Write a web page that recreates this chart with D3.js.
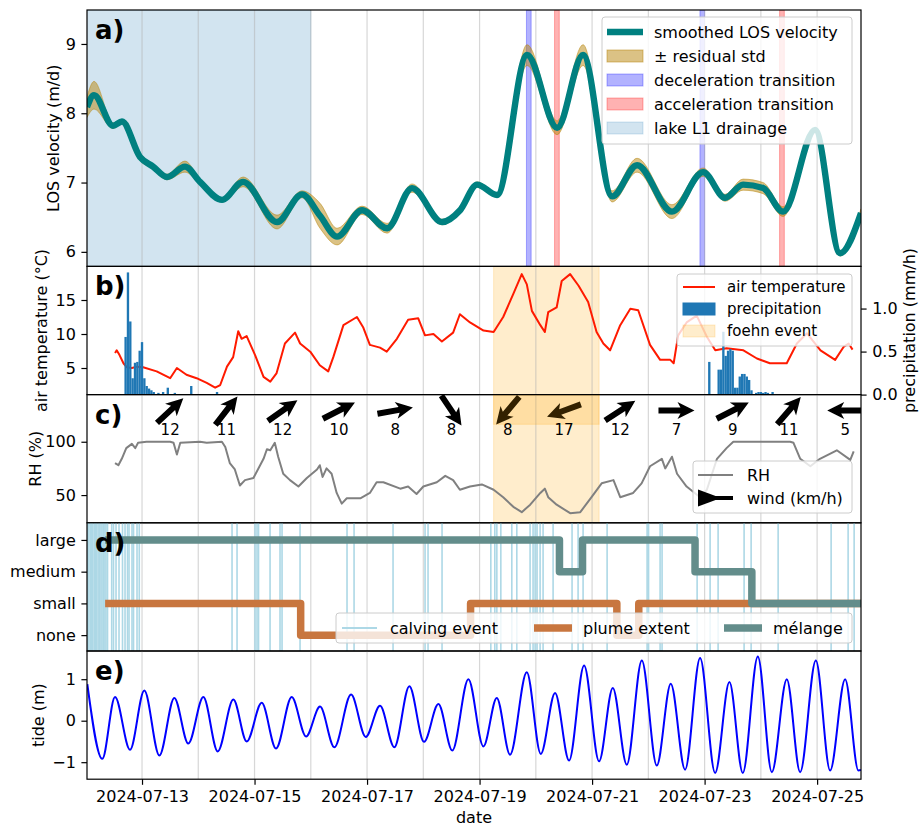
<!DOCTYPE html>
<html>
<head>
<meta charset="utf-8">
<script src="https://cdn.jsdelivr.net/npm/d3@7"></script>
<style>
body { margin: 0; background: #fff; }
text { font-family: "DejaVu Sans", sans-serif; }
</style>
</head>
<body>
<script>
// time is stored as days after 2024-07-12 00:00 UTC
const t0 = Date.UTC(2024, 6, 12);
const toDate = d => new Date(t0 + d * 864e5);
const xLimits = [0.022, 13.78];

// a) LOS velocity
const velDays   = [0.022, 0.147, 0.484, 0.644, 0.964, 1.196, 1.444, 1.764, 2.031, 2.422, 2.796, 3.40, 3.844, 4.164, 4.467, 4.911, 5.356, 5.80, 6.333, 6.653, 6.956, 7.311, 7.844, 8.378, 8.84, 9.356, 9.80, 10.42, 10.973, 11.364, 11.684, 12.04, 12.396, 12.964, 13.409, 13.78];
const velValues = [8.09, 8.26, 7.82, 7.88, 7.37, 7.23, 7.08, 7.23, 7.01, 6.75, 7.01, 6.43, 6.83, 6.52, 6.22, 6.60, 6.34, 6.92, 6.43, 6.60, 6.97, 6.82, 8.84, 7.79, 8.84, 6.80, 7.25, 6.58, 7.15, 6.78, 6.97, 6.92, 6.58, 7.76, 5.98, 6.56];
const velStd    = [0.15, 0.20, 0.04, 0.03, 0.05, 0.03, 0.04, 0.08, 0.03, 0.03, 0.07, 0.10, 0.05, 0.18, 0.12, 0.06, 0.07, 0.06, 0.04, 0.03, 0.04, 0.03, 0.15, 0.10, 0.15, 0.08, 0.10, 0.10, 0.06, 0.05, 0.08, 0.08, 0.07, 0.03, 0.04, 0.06];
const lakeDrainage = [0, 4.0];
const decelWindows = [[7.833, 7.917], [10.917, 11.0]];
const accelWindows = [[8.333, 8.417], [12.333, 12.417]];

// b) air temperature and precipitation
const tempDays   = [0.52, 0.55, 0.60, 0.67, 0.73, 0.82, 0.91, 1.02, 1.26, 1.50, 1.62, 1.79, 1.97, 2.15, 2.30, 2.39, 2.51, 2.62, 2.71, 2.77, 2.86, 3.01, 3.16, 3.28, 3.39, 3.54, 3.72, 3.81, 3.99, 4.16, 4.31, 4.40, 4.58, 4.82, 4.93, 5.05, 5.23, 5.35, 5.53, 5.73, 5.91, 6.03, 6.18, 6.33, 6.53, 6.65, 6.83, 7.07, 7.25, 7.42, 7.60, 7.75, 7.84, 7.93, 8.08, 8.16, 8.22, 8.37, 8.46, 8.61, 8.76, 8.93, 9.08, 9.20, 9.32, 9.50, 9.68, 9.82, 10.03, 10.21, 10.39, 10.45, 10.53, 10.68, 10.86, 11.04, 11.19, 11.39, 11.69, 11.93, 12.16, 12.46, 12.64, 12.82, 13.06, 13.32, 13.47, 13.56, 13.63];
const tempValues = [7.2, 7.6, 6.9, 5.7, 5.1, 5.0, 5.2, 5.1, 4.5, 3.5, 5.0, 4.0, 3.5, 2.8, 2.1, 2.5, 5.2, 6.6, 10.4, 9.3, 9.7, 6.9, 3.7, 3.0, 4.2, 8.6, 10.2, 8.6, 7.4, 5.4, 4.5, 6.6, 11.3, 12.5, 11.0, 8.4, 8.0, 7.4, 9.3, 12.1, 12.3, 9.8, 10.0, 8.9, 10.2, 12.9, 11.7, 10.5, 10.3, 12.5, 15.9, 18.8, 17.3, 13.4, 11.3, 10.3, 13.2, 13.9, 17.8, 18.8, 17.1, 14.7, 10.3, 8.6, 7.6, 11.3, 13.7, 13.5, 8.4, 6.2, 6.2, 5.7, 9.8, 11.7, 12.7, 9.6, 7.6, 7.9, 7.6, 6.4, 5.7, 5.7, 8.6, 10.1, 7.6, 6.2, 8.1, 8.6, 7.7];
// hours after 2024-07-12 00:00
const precipHours  = [17, 18, 19, 20, 21, 22, 23, 24, 25, 26, 27, 28, 29, 31, 33, 35, 38, 45, 56, 266, 270, 271, 272, 273, 274, 275, 276, 277, 278, 279, 280, 281, 282, 283, 284, 286, 287, 288, 289, 290, 291, 293];
const precipValues = [0.67, 1.42, 0.85, 0.19, 0.37, 0.38, 0.51, 0.61, 0.19, 0.10, 0.07, 0.05, 0.03, 0.02, 0.03, 0.08, 0.02, 0.10, 0.03, 0.38, 0.29, 0.29, 0.73, 0.45, 0.51, 0.53, 0.51, 0.08, 0.08, 0.21, 0.24, 0.24, 0.21, 0.17, 0.05, 0.02, 0.03, 0.03, 0.02, 0.03, 0.02, 0.03];
const foehnEvent = [7.25, 9.125];

// c) relative humidity and daily wind
const rhDays   = [0.52, 0.58, 0.64, 0.72, 0.82, 0.88, 0.93, 1.08, 1.50, 1.56, 1.62, 1.68, 2.03, 2.15, 2.42, 2.48, 2.56, 2.65, 2.74, 2.83, 2.98, 3.16, 3.22, 3.28, 3.36, 3.42, 3.51, 3.63, 3.78, 3.93, 4.11, 4.16, 4.21, 4.28, 4.37, 4.46, 4.55, 4.64, 4.88, 5.05, 5.17, 5.29, 5.59, 5.73, 5.88, 6.00, 6.24, 6.39, 6.53, 6.65, 6.83, 7.04, 7.25, 7.42, 7.60, 7.75, 7.90, 8.08, 8.16, 8.22, 8.37, 8.61, 8.79, 8.99, 9.17, 9.38, 9.50, 9.73, 9.88, 10.03, 10.24, 10.30, 10.42, 10.51, 10.68, 10.92, 11.04, 11.22, 11.39, 11.51, 12.52, 12.58, 12.70, 12.88, 13.05, 13.35, 13.59, 13.65];
const rhValues = [80, 78, 84, 94, 98, 94, 99, 100, 100, 99, 88, 99, 100, 99, 100, 95, 80, 74, 59, 64, 66, 84, 93, 92, 99, 86, 70, 64, 58, 66, 74, 78, 67, 75, 70, 52, 42, 47, 47, 52, 62, 62, 56, 58, 51, 58, 62, 68, 64, 55, 58, 60, 55, 48, 39, 34, 41, 52, 56, 48, 41, 33, 34, 48, 61, 64, 48, 52, 61, 77, 84, 75, 86, 70, 58, 48, 55, 84, 94, 100, 100, 99, 84, 77, 84, 92, 83, 91];
const windDays  = [1.5, 2.5, 3.5, 4.5, 5.5, 6.5, 7.5, 8.5, 9.5, 10.5, 11.5, 12.5, 13.5];
const windSpeed = [12, 11, 12, 10, 8, 8, 8, 17, 12, 7, 9, 11, 5];
const windFrom  = [227, 218, 235, 243, 260, 326, 40, 70, 237, 270, 243, 221, 90];

// d) calving, plume, melange
const extentLevels = ["none", "small", "medium", "large"];
const calvingDays = [0.03, 0.055, 0.08, 0.10, 0.125, 0.15, 0.17, 0.195, 0.22, 0.245, 0.27, 0.29, 0.315, 0.34, 0.36, 0.387, 0.461, 0.493, 0.538, 0.591, 0.653, 0.698, 0.742, 0.769, 0.822, 0.849, 0.911, 0.951, 2.6, 2.689, 3.009, 3.044, 3.071, 3.276, 3.453, 3.489, 3.809, 4.644, 4.769, 5.462, 6.031, 6.084, 6.333, 7.2, 7.271, 7.307, 7.378, 7.573, 7.662, 7.898, 7.951, 7.987, 8.022, 8.076, 8.129, 8.307, 8.644, 8.751, 8.84, 9.267, 9.978, 10.004, 10.209, 10.244, 10.867, 11.098, 11.24, 11.702, 11.827, 12.307, 13.249, 13.551, 13.658];
const plumeDays     = [0.344, 3.82, 6.84, 9.44, 9.83, 13.78];
const plumeLevels   = ["small", "none", "small", "none", "small", "small"];
const melangeDays   = [0.344, 8.42, 8.83, 10.83, 11.84, 13.78];
const melangeLevels = ["large", "medium", "large", "medium", "small", "small"];

// e) tide
const tideDays   = [0.028, 0.294, 0.52, 0.787, 1.041, 1.308, 1.574, 1.823, 2.09, 2.346, 2.623, 2.861, 3.128, 3.382, 3.661, 3.916, 4.164, 4.419, 4.716, 4.977, 5.231, 5.485, 5.752, 6.013, 6.268, 6.516, 6.801, 7.068, 7.306, 7.542, 7.839, 8.088, 8.342, 8.591, 8.858, 9.124, 9.368, 9.617, 9.884, 10.15, 10.399, 10.653, 10.92, 11.187, 11.441, 11.679, 11.946, 12.195, 12.461, 12.698, 12.977, 13.231, 13.498, 13.734, 13.78];
const tideValues = [0.88, -0.92, 0.57, -0.70, 0.73, -0.84, 0.55, -0.55, 0.57, -0.74, 0.51, -0.50, 0.43, -0.67, 0.57, -0.38, 0.34, -0.64, 0.63, -0.39, 0.36, -0.64, 0.83, -0.51, 0.40, -0.72, 1.00, -0.62, 0.55, -0.82, 1.17, -0.80, 0.67, -0.96, 1.33, -0.98, 0.79, -1.06, 1.45, -1.08, 0.89, -1.18, 1.51, -1.26, 0.93, -1.26, 1.55, -1.24, 1.00, -1.24, 1.45, -1.20, 1.00, -1.20, -1.19];

// ---- layout ----
const W = 919, H = 826;
const L = 87, R = 861;
const tops = [10, 266.4, 394.6, 522.8, 651];
const bots = [266.4, 394.6, 522.8, 651, 779.2];
const FS = 16;

const svg = d3.select("body").append("svg").attr("width", W).attr("height", H);

const x = d3.scaleUtc().domain(xLimits.map(toDate)).range([L, R]);
const gridDays = d3.utcDay.range(toDate(xLimits[0]), toDate(xLimits[1]));
const xd = d => x(toDate(d));

function makePanel(i) {
  const g = svg.append("g");
  svg.append("clipPath").attr("id", "clip" + i).append("rect")
    .attr("x", L).attr("y", tops[i]).attr("width", R - L).attr("height", bots[i] - tops[i]);
  const inner = g.append("g").attr("clip-path", `url(#clip${i})`);
  return { g, inner, top: tops[i], bot: bots[i] };
}

function band(sel, p, d0, d1, color, op, y0, y1) {
  const a = y0 === undefined ? p.top : y0;
  const b = y1 === undefined ? p.bot : y1;
  sel.append("rect")
    .attr("x", xd(d0)).attr("width", xd(d1) - xd(d0))
    .attr("y", a).attr("height", b - a)
    .attr("fill", color).attr("fill-opacity", op)
    .attr("stroke", color).attr("stroke-opacity", op).attr("stroke-width", 1);
}

function grid(p) {
  p.inner.append("g").selectAll("line").data(gridDays).join("line")
    .attr("x1", d => x(d)).attr("x2", d => x(d))
    .attr("y1", p.top).attr("y2", p.bot)
    .attr("stroke", "#b0b0b0").attr("stroke-opacity", 0.5).attr("stroke-width", 1.2);
}

function styleAxis(g) {
  g.attr("font-size", FS).attr("font-family", "DejaVu Sans, sans-serif");
  g.select(".domain").remove();
  g.selectAll(".tick line").attr("stroke", "#000").attr("stroke-width", 1.2);
  g.selectAll(".tick text").attr("fill", "#000");
}

function leftAxis(p, y, values, fmt) {
  const ax = d3.axisLeft(y).tickValues(values).tickSize(5.6).tickPadding(5.6)
    .tickFormat(fmt || d3.format("d"));
  p.g.append("g").attr("transform", `translate(${L},0)`).call(ax).call(styleAxis);
}

function yLabel(p, xpos, label) {
  p.g.append("text")
    .attr("transform", `translate(${xpos},${(p.top + p.bot) / 2}) rotate(-90)`)
    .attr("text-anchor", "middle").attr("font-size", FS).text(label);
}

function frame(p) {
  p.g.append("rect").attr("x", L).attr("y", p.top).attr("width", R - L).attr("height", p.bot - p.top)
    .attr("fill", "none").attr("stroke", "#000").attr("stroke-width", 1.2);
}

function panelLabel(p, s) {
  p.g.append("text").attr("x", L + 8).attr("y", p.top + 29)
    .attr("font-size", 26).attr("font-weight", "bold").text(s);
}

function legendBox(g, x0, y0, w, h) {
  g.append("rect").attr("x", x0).attr("y", y0).attr("width", w).attr("height", h)
    .attr("rx", 3).attr("fill", "#fff").attr("fill-opacity", 0.8)
    .attr("stroke", "#ccc").attr("stroke-width", 1);
}

// ================= a) =================
const pa = makePanel(0);
const yA = d3.scaleLinear().domain([5.79, 9.49]).range([pa.bot, pa.top]);
band(pa.inner, pa, lakeDrainage[0], lakeDrainage[1], "#1f77b4", 0.2);
decelWindows.forEach(w => band(pa.inner, pa, w[0], w[1], "blue", 0.3));
accelWindows.forEach(w => band(pa.inner, pa, w[0], w[1], "red", 0.3));
grid(pa);
const velIdx = d3.range(velDays.length);
pa.inner.append("path")
  .attr("d", d3.area()
    .x(i => xd(velDays[i]))
    .y0(i => yA(velValues[i] - velStd[i]))
    .y1(i => yA(velValues[i] + velStd[i]))
    .curve(d3.curveMonotoneX)(velIdx))
  .attr("fill", "#b8860b").attr("fill-opacity", 0.5)
  .attr("stroke", "#b8860b").attr("stroke-opacity", 0.5).attr("stroke-width", 1);
pa.inner.append("path")
  .attr("d", d3.line().x(i => xd(velDays[i])).y(i => yA(velValues[i])).curve(d3.curveMonotoneX)(velIdx))
  .attr("fill", "none").attr("stroke", "#008080").attr("stroke-width", 6.4);
leftAxis(pa, yA, [6, 7, 8, 9]);
yLabel(pa, 59, "LOS velocity (m/d)");
{
  const lg = pa.g.append("g");
  legendBox(lg, 602, 17, 250, 127);
  const rows = [
    { t: "smoothed LOS velocity", line: "#008080", w: 6.4 },
    { t: "± residual std", patch: "#b8860b", op: 0.5 },
    { t: "deceleration transition", patch: "blue", op: 0.3 },
    { t: "acceleration transition", patch: "red", op: 0.3 },
    { t: "lake L1 drainage", patch: "#1f77b4", op: 0.2 }
  ];
  rows.forEach((r, i) => {
    const yy = 32 + i * 24;
    if (r.line) {
      lg.append("line").attr("x1", 607).attr("x2", 643).attr("y1", yy).attr("y2", yy)
        .attr("stroke", r.line).attr("stroke-width", r.w);
    } else {
      lg.append("rect").attr("x", 607).attr("y", yy - 6).attr("width", 36).attr("height", 12)
        .attr("fill", r.patch).attr("fill-opacity", r.op)
        .attr("stroke", r.patch).attr("stroke-opacity", r.op);
    }
    lg.append("text").attr("x", 654).attr("y", yy).attr("dy", "0.36em").attr("font-size", FS).text(r.t);
  });
}
panelLabel(pa, "a)");
frame(pa);

// ================= b) =================
const pb = makePanel(1);
const yT = d3.scaleLinear().domain([1.09, 19.94]).range([pb.bot, pb.top]);
const yP = d3.scaleLinear().domain([0, 1.49]).range([pb.bot, pb.top]);
band(pb.inner, pb, foehnEvent[0], foehnEvent[1], "orange", 0.2);
grid(pb);
const tIdx = d3.range(tempDays.length);
pb.inner.append("path")
  .attr("d", d3.line().x(i => xd(tempDays[i])).y(i => yT(tempValues[i]))(tIdx))
  .attr("fill", "none").attr("stroke", "#ff1a00").attr("stroke-width", 2).attr("stroke-linejoin", "round");
const hourW = xd(1 / 24) - xd(0);
pb.inner.append("g").selectAll("rect").data(d3.range(precipHours.length)).join("rect")
  .attr("x", i => xd(precipHours[i] / 24) - hourW / 2)
  .attr("width", hourW)
  .attr("y", i => yP(precipValues[i]))
  .attr("height", i => yP(0) - yP(precipValues[i]))
  .attr("fill", "#1f77b4");
leftAxis(pb, yT, [5, 10, 15]);
{
  const ax = d3.axisRight(yP).tickValues([0, 0.5, 1.0]).tickFormat(d3.format(".1f")).tickSize(5.6).tickPadding(5.6);
  pb.g.append("g").attr("transform", `translate(${R},0)`).call(ax).call(styleAxis);
}
yLabel(pb, 47, "air temperature (°C)");
yLabel(pb, 915, "precipitation (mm/h)");
{
  const lg = pb.g.append("g");
  legendBox(lg, 677, 274, 175, 72);
  const rows = [
    { t: "air temperature", line: "#ff1a00" },
    { t: "precipitation", patch: "#1f77b4", op: 1 },
    { t: "foehn event", patch: "orange", op: 0.2 }
  ];
  rows.forEach((r, i) => {
    const yy = 287 + i * 22;
    if (r.line) {
      lg.append("line").attr("x1", 683).attr("x2", 715).attr("y1", yy).attr("y2", yy)
        .attr("stroke", r.line).attr("stroke-width", 2);
    } else {
      lg.append("rect").attr("x", 683).attr("y", yy - 6).attr("width", 32).attr("height", 12)
        .attr("fill", r.patch).attr("fill-opacity", r.op)
        .attr("stroke", r.patch).attr("stroke-opacity", r.op);
    }
    lg.append("text").attr("x", 727).attr("y", yy).attr("dy", "0.36em").attr("font-size", 15).text(r.t);
  });
}
panelLabel(pb, "b)");
frame(pb);

// ================= c) =================
const pc = makePanel(2);
const yRH = d3.scaleLinear().domain([24, 144.2]).range([pc.bot, pc.top]);
band(pc.inner, pc, foehnEvent[0], foehnEvent[1], "orange", 0.2);
grid(pc);
const rIdx = d3.range(rhDays.length);
pc.inner.append("path")
  .attr("d", d3.line().x(i => xd(rhDays[i])).y(i => yRH(rhValues[i]))(rIdx))
  .attr("fill", "none").attr("stroke", "gray").attr("stroke-width", 2).attr("stroke-linejoin", "round");
// arrow pointing along +x, centred on the origin
const arrowPath = "M-18,-3 L4,-3 L1,-8.5 L18,0 L1,8.5 L4,3 L-18,3 Z";
const windY = pc.top + 16;
pc.inner.append("g").selectAll("path").data(d3.range(windDays.length)).join("path")
  .attr("d", arrowPath)
  .attr("transform", i => `translate(${xd(windDays[i])},${windY}) rotate(${windFrom[i] + 180 - 90})`)
  .attr("fill", "#000");
band(pc.inner, pc, foehnEvent[0], foehnEvent[1], "orange", 0.2, pc.top, pc.top + 29.7);
pc.inner.append("g").selectAll("text").data(d3.range(windDays.length)).join("text")
  .attr("x", i => xd(windDays[i])).attr("y", pc.top + 40.5)
  .attr("text-anchor", "middle").attr("font-size", 15)
  .text(i => windSpeed[i]);
leftAxis(pc, yRH, [50, 100]);
yLabel(pc, 41, "RH (%)");
{
  const lg = pc.g.append("g");
  legendBox(lg, 693, 461, 159, 52);
  lg.append("line").attr("x1", 698).attr("x2", 733).attr("y1", 475).attr("y2", 475)
    .attr("stroke", "gray").attr("stroke-width", 2);
  lg.append("line").attr("x1", 698).attr("x2", 733).attr("y1", 498).attr("y2", 498)
    .attr("stroke", "#000").attr("stroke-width", 4);
  lg.append("path").attr("d", "M698,489.5 L721,498 L698,506.5 Z").attr("fill", "#000");
  lg.append("text").attr("x", 747).attr("y", 475).attr("dy", "0.36em").attr("font-size", FS).text("RH");
  lg.append("text").attr("x", 747).attr("y", 498).attr("dy", "0.36em").attr("font-size", FS).text("wind (km/h)");
}
panelLabel(pc, "c)");
frame(pc);

// ================= d) =================
const pd = makePanel(3);
const yD = d3.scaleLinear().domain([-0.5, 3.54]).range([pd.bot, pd.top]);
const lvl = s => extentLevels.indexOf(s);
grid(pd);
pd.inner.append("g").selectAll("line").data(calvingDays).join("line")
  .attr("x1", d => xd(d)).attr("x2", d => xd(d))
  .attr("y1", pd.top).attr("y2", pd.bot)
  .attr("stroke", "lightblue").attr("stroke-width", 1.6);
const stepLine = (days, levels) => d3.line()
  .x(i => xd(days[i])).y(i => yD(lvl(levels[i]))).curve(d3.curveStepAfter)(d3.range(days.length));
pd.inner.append("path").attr("d", stepLine(plumeDays, plumeLevels))
  .attr("fill", "none").attr("stroke", "#c8763f").attr("stroke-width", 7.5).attr("stroke-linejoin", "round");
pd.inner.append("path").attr("d", stepLine(melangeDays, melangeLevels))
  .attr("fill", "none").attr("stroke", "#638d8b").attr("stroke-width", 7.5).attr("stroke-linejoin", "round");
leftAxis(pd, yD, [0, 1, 2, 3], i => extentLevels[i]);
{
  const lg = pd.g.append("g");
  legendBox(lg, 336, 613, 516, 30);
  const yy = 628;
  const items = [
    { t: "calving event", c: "lightblue", w: 2, x0: 342, x1: 377, tx: 390 },
    { t: "plume extent", c: "#c8763f", w: 7.5, x0: 534, x1: 572, tx: 583 },
    { t: "mélange", c: "#638d8b", w: 7.5, x0: 724, x1: 762, tx: 773 }
  ];
  items.forEach(it => {
    lg.append("line").attr("x1", it.x0).attr("x2", it.x1).attr("y1", yy).attr("y2", yy)
      .attr("stroke", it.c).attr("stroke-width", it.w);
    lg.append("text").attr("x", it.tx).attr("y", yy).attr("dy", "0.36em").attr("font-size", FS).text(it.t);
  });
}
panelLabel(pd, "d)");
frame(pd);

// ================= e) =================
const pe = makePanel(4);
const yE = d3.scaleLinear().domain([-1.41, 1.68]).range([pe.bot, pe.top]);
grid(pe);
pe.inner.append("path")
  .attr("d", d3.line().x(i => xd(tideDays[i])).y(i => yE(tideValues[i])).curve(d3.curveMonotoneX)(d3.range(tideDays.length)))
  .attr("fill", "none").attr("stroke", "blue").attr("stroke-width", 2);
leftAxis(pe, yE, [-1, 0, 1]);
yLabel(pe, 44, "tide (m)");
{
  const ax = d3.axisBottom(x).ticks(d3.utcDay.every(2)).tickFormat(d3.utcFormat("%Y-%m-%d"))
    .tickSize(5.6).tickPadding(5.6);
  pe.g.append("g").attr("transform", `translate(0,${pe.bot})`).call(ax).call(styleAxis);
}
pe.g.append("text").attr("x", (L + R) / 2).attr("y", 823).attr("text-anchor", "middle")
  .attr("font-size", FS).text("date");
panelLabel(pe, "e)");
frame(pe);
</script>
</body>
</html>
